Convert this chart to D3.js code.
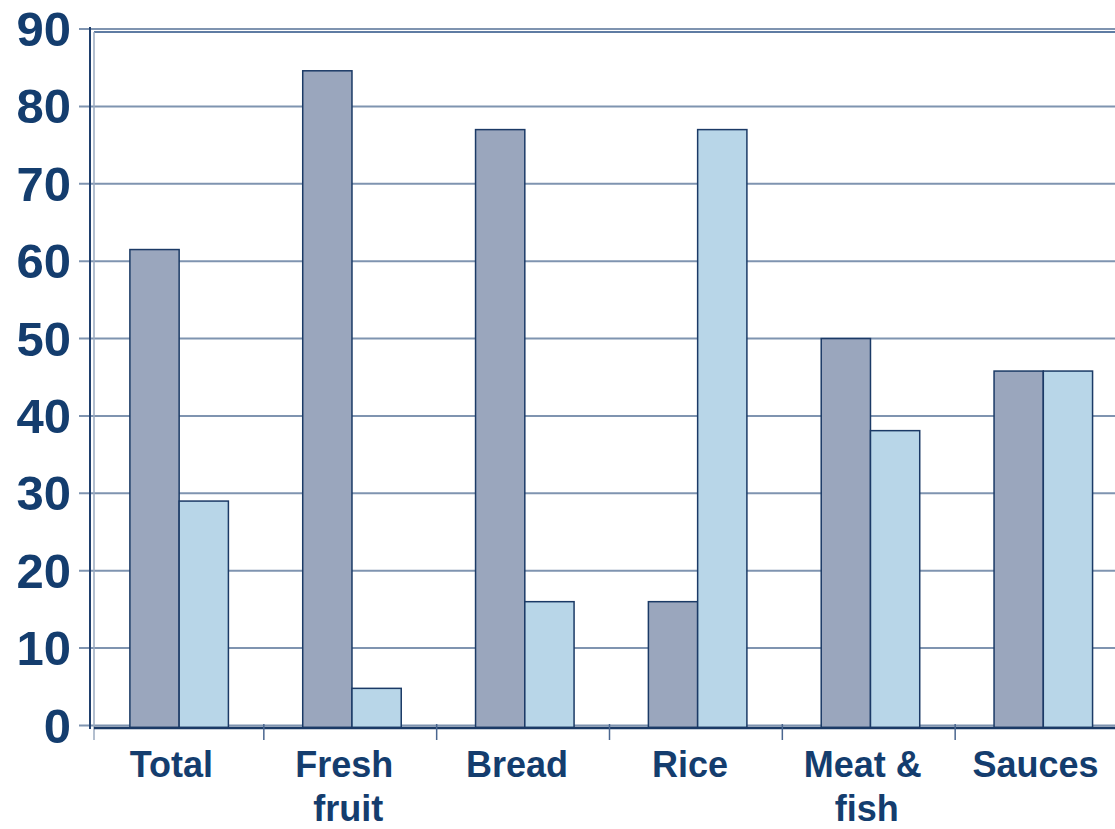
<!DOCTYPE html>
<html>
<head>
<meta charset="utf-8">
<script src="https://cdn.jsdelivr.net/npm/d3@7"></script>
<style>
  html, body { margin: 0; padding: 0; background: #ffffff; }
  svg { display: block; }
  text { font-family: "Liberation Sans", Arial, sans-serif; font-weight: bold; fill: #143d6e; }
</style>
</head>
<body>
<svg id="chart" width="1115" height="829"></svg>
<script>
// Categories (label lines) and the two series values
const categories = ["Total", "Fresh fruit", "Bread", "Rice", "Meat & fish", "Sauces"];
const categoryLines = [["Total"], ["Fresh", "fruit"], ["Bread"], ["Rice"], ["Meat &", "fish"], ["Sauces"]];
const seriesNames = ["A", "B"];
const seriesA = [61.5, 84.6, 77, 16, 50, 45.8];
const seriesB = [29, 4.8, 16, 77, 38.1, 45.8];
const yTicks = [0, 10, 20, 30, 40, 50, 60, 70, 80, 90];

const colors = { A: "#9aa6bd", B: "#b8d6e8" };
const svg = d3.select("#chart");

const plotLeft = 91, plotRight = 1128;
const y = d3.scaleLinear().domain([0, 90]).range([725.5, 29]);
const x0 = d3.scaleBand().domain(categories).range([plotLeft, plotRight]).paddingInner(0).paddingOuter(0);
const x1 = d3.scaleBand().domain(seriesNames)
  .range([x0.bandwidth() * 0.225, x0.bandwidth() * 0.795]).padding(0);

// Horizontal gridlines with short tick stubs on the left
svg.append("g").selectAll("line").data(yTicks).join("line")
  .attr("x1", 79).attr("x2", 1115)
  .attr("y1", d => y(d)).attr("y2", d => y(d))
  .attr("stroke", "#7f94b0").attr("stroke-width", 2);

// Y tick labels
svg.append("g").selectAll("text").data(yTicks).join("text")
  .attr("x", 71).attr("y", d => y(d))
  .attr("text-anchor", "end").attr("dominant-baseline", "central")
  .attr("font-size", 49)
  .text(d => d);

// Plot frame (top and left edges)
svg.append("line").attr("x1", 94).attr("x2", 1115).attr("y1", 32).attr("y2", 32)
  .attr("stroke", "#5f7ca3").attr("stroke-width", 2);
svg.append("line").attr("x1", 94).attr("x2", 94).attr("y1", 32).attr("y2", 740)
  .attr("stroke", "#9aaabf").attr("stroke-width", 1.5);
svg.append("line").attr("x1", 90).attr("x2", 90).attr("y1", 27).attr("y2", 729)
  .attr("stroke", "#1f3f6d").attr("stroke-width", 2);

// Bars
const rows = categories.map((c, i) => ({ cat: c, vals: [
  { key: "A", v: seriesA[i] }, { key: "B", v: seriesB[i] }
]}));
const groups = svg.append("g").selectAll("g").data(rows).join("g")
  .attr("transform", d => `translate(${x0(d.cat)},0)`);
groups.selectAll("rect").data(d => d.vals).join("rect")
  .attr("x", d => x1(d.key))
  .attr("y", d => y(d.v))
  .attr("width", x1.bandwidth())
  .attr("height", d => y(0) - y(d.v) + 2)
  .attr("fill", d => colors[d.key])
  .attr("stroke", "#1b3a66").attr("stroke-width", 1.5);

// X axis line and category boundary ticks
svg.append("line").attr("x1", 94).attr("x2", 1115).attr("y1", 728).attr("y2", 728)
  .attr("stroke", "#1b3a66").attr("stroke-width", 2.5);
svg.append("g").selectAll("line").data(categories.slice(1)).join("line")
  .attr("x1", d => x0(d)).attr("x2", d => x0(d))
  .attr("y1", 724).attr("y2", 740)
  .attr("stroke", "#4a668f").attr("stroke-width", 1.5);

// Category labels
const lab = svg.append("g").selectAll("text").data(categories).join("text")
  .attr("x", d => x0(d) + x0.bandwidth() / 2 - 6)
  .attr("y", 777)
  .attr("text-anchor", "middle")
  .attr("font-size", 36);
lab.each(function(d, i) {
  const t = d3.select(this);
  categoryLines[i].forEach((line, j) => {
    t.append("tspan")
      .attr("x", x0(d) + x0.bandwidth() / 2 - 6 + (j > 0 ? 4 : 0))
      .attr("dy", j === 0 ? 0 : 44)
      .text(line);
  });
});
</script>
</body>
</html>
